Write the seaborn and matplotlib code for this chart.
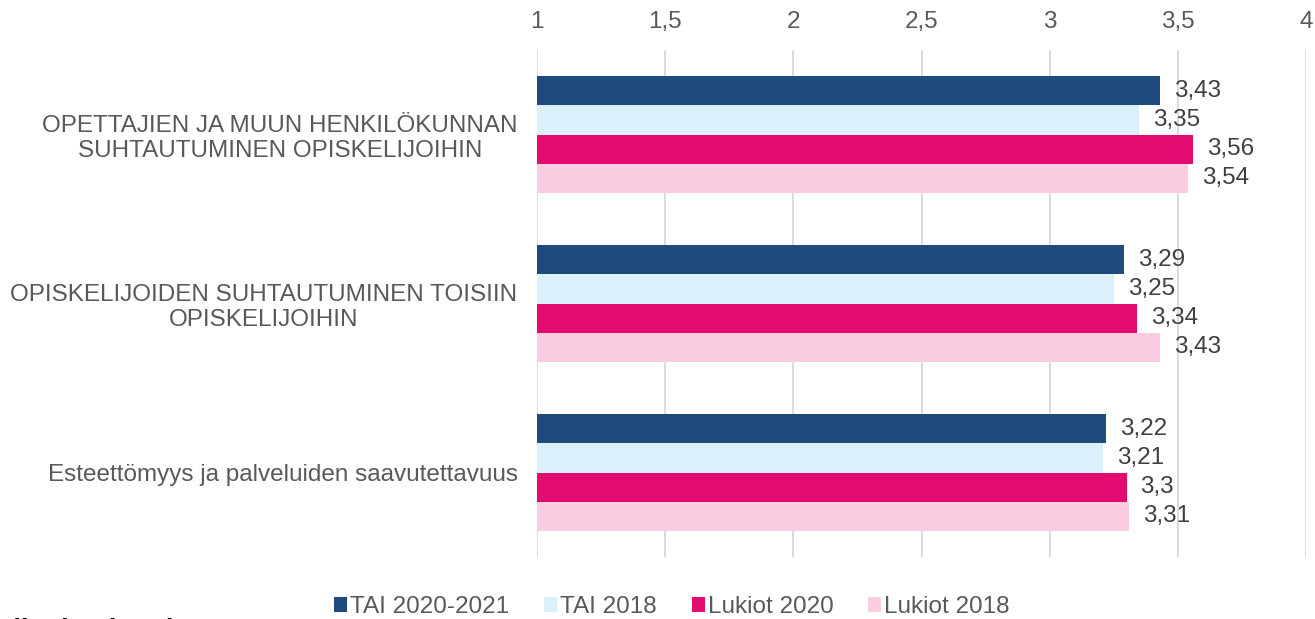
import pandas as pd
import seaborn as sns
import matplotlib.pyplot as plt
from matplotlib.ticker import FuncFormatter

categories = [
    "OPETTAJIEN JA MUUN HENKILÖKUNNAN\nSUHTAUTUMINEN OPISKELIJOIHIN",
    "OPISKELIJOIDEN SUHTAUTUMINEN TOISIIN\nOPISKELIJOIHIN",
    "Esteettömyys ja palveluiden saavutettavuus",
]
series = ["TAI 2020-2021", "TAI 2018", "Lukiot 2020", "Lukiot 2018"]
tai_2020_2021 = [3.43, 3.29, 3.22]
tai_2018 = [3.35, 3.25, 3.21]
lukiot_2020 = [3.56, 3.34, 3.30]
lukiot_2018 = [3.54, 3.43, 3.31]
colors = ["#1F4A7C", "#DAF1FB", "#E30B6F", "#FBCCE2"]

rows = []
for name, vals in zip(series, [tai_2020_2021, tai_2018, lukiot_2020, lukiot_2018]):
    for cat, v in zip(categories, vals):
        rows.append({"kategoria": cat, "sarja": name, "arvo": v})
df = pd.DataFrame(rows)

sns.set_style("white")
plt.rcParams["font.family"] = ["Liberation Sans", "DejaVu Sans"]
grey = "#595959"
fs = 17.5

fig = plt.figure(figsize=(13.15, 6.19), dpi=100)
ax = fig.add_axes([537 / 1315, 1 - 557 / 619, 769 / 1315, 507 / 619])

sns.barplot(data=df, x="arvo", y="kategoria", hue="sarja", orient="h",
            palette=colors, saturation=1, width=0.69, ax=ax, legend=True,
            edgecolor="none", linewidth=0)

ax.set_xlim(1, 4)
ax.set_xticks([1, 1.5, 2, 2.5, 3, 3.5, 4])
ax.xaxis.set_major_formatter(FuncFormatter(lambda v, p: f"{v:g}".replace(".", ",")))
ax.xaxis.tick_top()
ax.tick_params(axis="x", length=0, pad=12, labelsize=fs, labelcolor=grey)
ax.tick_params(axis="y", length=0, pad=14, labelsize=fs, labelcolor=grey)
for lab in ax.get_yticklabels():
    lab.set_multialignment("center")
    lab.set_linespacing(1.15)
ax.grid(axis="x", color="#D9D9D9", linewidth=1.3)
ax.set_axisbelow(True)
for s in ax.spines.values():
    s.set_visible(False)
ax.set_xlabel("")
ax.set_ylabel("")

for cont in ax.containers:
    labels = [f"{b.get_width():g}".replace(".", ",") for b in cont]
    ax.bar_label(cont, labels=labels, padding=10, fontsize=fs, color="#404040")

handles, labs = ax.get_legend_handles_labels()
ax.legend_.remove()
fig.legend(handles, labs, loc="center", bbox_to_anchor=(672 / 1315, 1 - 607 / 619),
           ncol=4, frameon=False, fontsize=fs, labelcolor=grey,
           handlelength=0.53, handleheight=0.53, handletextpad=0.12, columnspacing=1.44)

fig.text(-0.002, 1 - 638 / 619, "Tilat ja olosuhteet", fontsize=20, fontweight="bold",
         color="black", ha="left", va="baseline")

fig.savefig("out.png", dpi=100)
